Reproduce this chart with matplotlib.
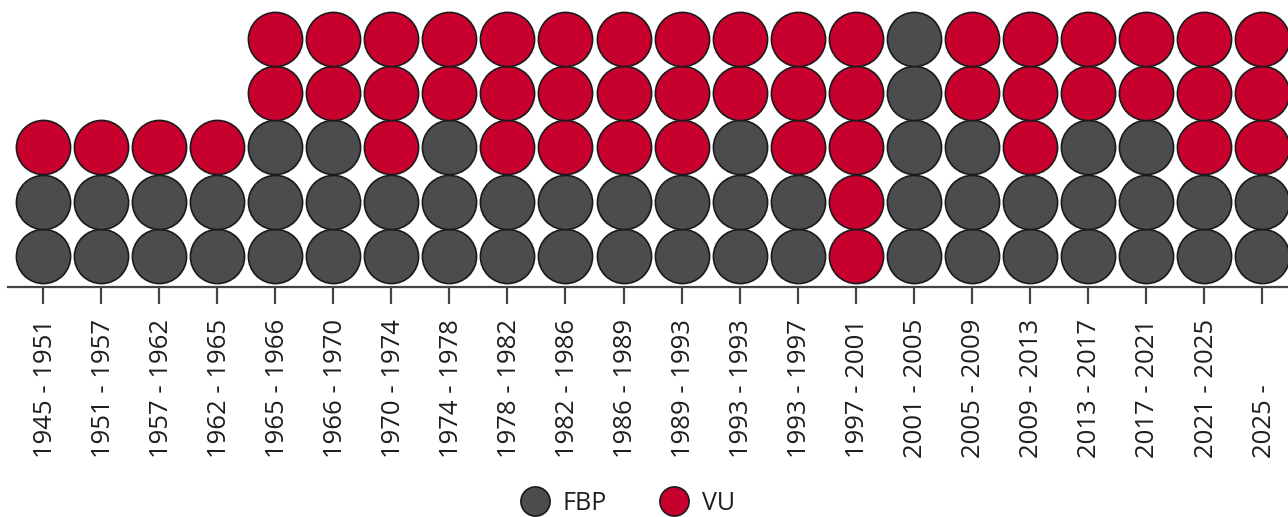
import numpy as np
import matplotlib.pyplot as plt
from matplotlib.lines import Line2D
from matplotlib import transforms

plt.rcParams['font.family'] = ['Open Sans', 'DejaVu Sans']

# Legislaturperioden und Sitze
periods = ["1945 - 1951", "1951 - 1957", "1957 - 1962", "1962 - 1965", "1965 - 1966",
           "1966 - 1970", "1970 - 1974", "1974 - 1978", "1978 - 1982", "1982 - 1986",
           "1986 - 1989", "1989 - 1993", "1993 - 1993", "1993 - 1997", "1997 - 2001",
           "2001 - 2005", "2005 - 2009", "2009 - 2013", "2013 - 2017", "2017 - 2021",
           "2021 - 2025", "2025 -"]
fbp = [2, 2, 2, 2, 3, 3, 2, 3, 2, 2, 2, 2, 3, 2, 0, 5, 3, 2, 3, 3, 2, 2]
vu = [1, 1, 1, 1, 2, 2, 3, 2, 3, 3, 3, 3, 2, 3, 5, 0, 2, 3, 2, 2, 3, 3]

c_fbp = "#4b4c4e"
c_vu = "#c8002d"
edge = "#1a1a1a"

fig = plt.figure(figsize=(12.88, 5.17), dpi=100)
ax = fig.add_axes([0, 230 / 517, 1, 287 / 517])

xs_g, ys_g, xs_r, ys_r = [], [], [], []
for i, (g, r) in enumerate(zip(fbp, vu)):
    for j in range(g):
        xs_g.append(i)
        ys_g.append(j)
    for j in range(r):
        xs_r.append(i)
        ys_r.append(g + j)

s = 39 ** 2
ax.scatter(xs_g, ys_g, s=s, color=c_fbp, edgecolor=edge, linewidth=1.2, zorder=3, clip_on=False)
ax.scatter(xs_r, ys_r, s=s, color=c_vu, edgecolor=edge, linewidth=1.2, zorder=3, clip_on=False)

ax.set_xlim(-43 / 58.05, (1288 - 43) / 58.05)
ax.set_ylim(-31 / 54.3, 256 / 54.3)

for sp in ["top", "right", "left"]:
    ax.spines[sp].set_visible(False)
ax.spines["bottom"].set_color("#444444")
ax.spines["bottom"].set_linewidth(1.6)
ax.spines["bottom"].set_bounds(-0.6, (1288 - 43) / 58.05)
ax.set_yticks([])
ax.set_xticks(range(len(periods)))
ax.set_xticklabels([])
ax.tick_params(axis="x", direction="out", length=12.5, width=1.6, color="#444444")

trans = transforms.blended_transform_factory(ax.transData, fig.transFigure)
for i, lab in enumerate(periods):
    ax.text(i + 0.035, 59 / 517, lab, rotation=90, ha="center", va="bottom",
            fontsize=18.5, color="#1e1e1e", transform=trans, clip_on=False)

handles = [Line2D([], [], ls="none", marker="o", markersize=21, markerfacecolor=c,
                  markeredgecolor=edge, markeredgewidth=1.2) for c in (c_fbp, c_vu)]
fig.legend(handles, ["FBP", "VU"], loc="center", bbox_to_anchor=(0.487, 14 / 517),
           ncol=2, frameon=False, fontsize=18, handlelength=1.2, handletextpad=0.5,
           columnspacing=2.1, labelcolor="#1e1e1e")

fig.savefig("out.png", dpi=100)
